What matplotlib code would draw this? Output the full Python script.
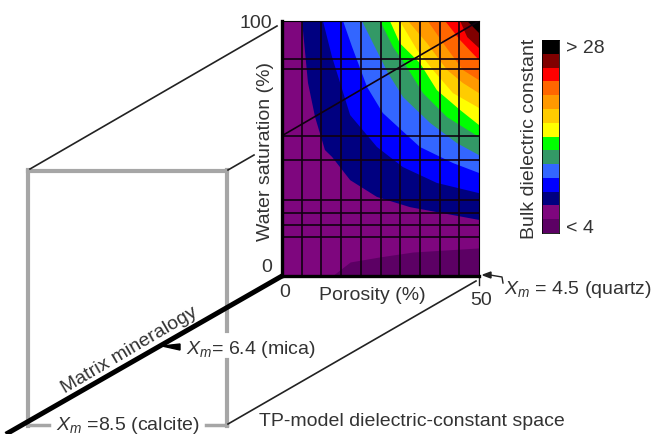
import matplotlib
matplotlib.use("Agg")
import matplotlib.pyplot as plt
from matplotlib.transforms import ScaledTranslation

plt.rcParams['font.family'] = ['Liberation Sans', 'DejaVu Sans']
plt.rcParams['mathtext.fontset'] = 'custom'
plt.rcParams['mathtext.rm'] = 'Liberation Sans'
plt.rcParams['mathtext.it'] = 'Liberation Sans:italic'

#colours, low to high
cores = ['#5c0064', '#7e067e', '#000080', '#0000ff', '#3366ff', '#339966', '#00ff00',
         '#ffff00', '#ffcc00', '#ff9900', '#ff6600', '#ff0000', '#800000', '#000000']

#contour edges: porosity (%), saturation (%)
limite_1_por = [12.7, 17.3, 24.9, 33.2, 50]
limite_1_sat = [0, 5.5, 7.5, 9.4, 11]
limites = [
    ([5.1, 6.6, 8.4, 10.9, 12.7, 17.3, 24.1, 32.5, 50], [100, 75.7, 62.3, 49.4, 46.7, 37.6, 31, 27, 22]),
    ([10.4, 12.7, 17.3, 24.1, 30.7, 39.3, 50], [100, 85.9, 63.1, 50.6, 42.7, 36.5, 32.5]),
    ([15.5, 17.8, 21.6, 25.6, 35, 43.4, 50], [100, 89.8, 74.1, 63.9, 50.6, 44.3, 40.4]),
    ([20.3, 23.1, 26.9, 30.7, 37.6, 44.4, 50], [100, 91.3, 79.6, 70.2, 60, 52.1, 47.4]),
    ([24.9, 28.2, 31.7, 35.8, 41.9, 50], [100, 89.8, 81.9, 71.7, 62.3, 54.5]),
    ([27.4, 29.9, 35, 39.3, 45.2, 50], [100, 91.3, 83.5, 72.9, 65.1, 59.2]),
    ([29.9, 34.3, 38.3, 43.4, 50], [100, 88.6, 80.8, 71.7, 65.9]),
    ([32, 36.8, 41.9, 45.9, 50], [100, 91.3, 80.8, 75.7, 71.7]),
    ([37, 40.9, 45.9, 50], [100, 91.3, 80.8, 76.8]),
    ([41.4, 45.2, 50], [100, 92.5, 84.7]),
    ([45.2, 47, 50], [100, 93.7, 89.4]),
    ([47, 50], [100, 95.3]),
]
grade_por = [5, 10, 15, 20, 25, 30, 35, 40, 45]
grade_sat = [15.3, 20, 24.7, 30, 45.5, 55, 81, 85]
diagonal_por = [0, 50]
diagonal_sat = [55, 100]

L, A = 652, 434
fig = plt.figure(figsize=(L/100, A/100), dpi=100)

#wire frame, in pixels of the picture
fundo = fig.add_axes([0, 0, 1, 1])
fundo.set_xlim(0, L)
fundo.set_ylim(A, 0)
fundo.axis('off')
cinza = '#a6a6a6'
fundo.plot([28, 227], [171, 171], color=cinza, lw=3)
fundo.plot([28, 28], [170, 426], color=cinza, lw=3)
fundo.plot([227, 227], [170, 331], color=cinza, lw=3)
fundo.plot([227, 227], [360, 426], color=cinza, lw=3)
fundo.plot([28, 49], [425, 425], color=cinza, lw=2.5)
fundo.plot([206, 227], [425, 425], color=cinza, lw=2.5)
fundo.plot([30, 277], [169, 26], color='#222222', lw=1.2)
fundo.plot([228, 254], [170, 155], color='#222222', lw=1.2)
fundo.plot([228, 476], [424, 281], color='#222222', lw=1.2)
fundo.plot([8, 282], [433, 276], color='black', lw=3.6)
fundo.fill([162, 180, 180], [346, 344, 350], color='black')
fundo.plot([490, 502, 503], [275, 277, 283], color='#222222', lw=1)
fundo.fill([483, 491, 491], [275, 272, 278], color='#222222')
fundo.plot([479, 479], [276, 285], color='#222222', lw=1)

texto = '#333333'
fs = 14
fundo.text(129, 350, 'Matrix mineralogy', rotation=30.5, rotation_mode='anchor', ha='center',
           va='center', fontsize=fs, color=texto)
fundo.text(186, 349, r'$X_m$' + '= 6.4 (mica)', va='center', fontsize=fs, color=texto)
fundo.text(56, 425, r'$X_m$' + ' =8.5 (calcite)', va='center', fontsize=fs, color=texto)
fundo.text(504, 289, r'$X_m$' + ' = 4.5 (quartz)', va='center', fontsize=fs, color=texto)
fundo.text(259, 422, 'TP-model dielectric-constant space', va='center', fontsize=fs, color=texto)

#main panel
ax = fig.add_axes([282/L, 1-276/A, 197/L, 255/A])
ax.set_facecolor(cores[1])
ax.fill_between(limite_1_por, 0, limite_1_sat, color=cores[0], lw=0)
for (por, sat), cor in zip(limites, cores[2:]):
    ax.fill(por + [50], sat + [100], color=cor, lw=0)
for p in grade_por:
    ax.axvline(p, color='#100010', lw=1.2)
for s in grade_sat:
    ax.axhline(s, color='#100010', lw=1.2)
ax.plot(diagonal_por, diagonal_sat, color='#100010', lw=1.2)
ax.set_xlim(0, 50)
ax.set_ylim(0, 100)
ax.set_xticks([0, 50])
ax.set_yticks([0, 100])
ax.tick_params(length=0, labelsize=fs, labelcolor=texto, pad=7)
ax.tick_params(axis='x', pad=6)
ax.get_yticklabels()[0].set_va('bottom')
rotulos_x = ax.get_xticklabels()
rotulos_x[0].set_transform(rotulos_x[0].get_transform() + ScaledTranslation(3/100, 0, fig.dpi_scale_trans))
rotulos_x[1].set_transform(rotulos_x[1].get_transform() + ScaledTranslation(2/100, -8/100, fig.dpi_scale_trans))
ax.set_xlabel('Porosity (%)', fontsize=fs, color=texto, va='center')
ax.xaxis.set_label_coords(90/197, -20/255)
ax.set_ylabel('Water saturation (%)', fontsize=fs, color=texto, va='center')
ax.yaxis.set_label_coords(-16/197, 0.49)
for lado in ['top', 'right']:
    ax.spines[lado].set_linewidth(0.8)
for lado in ['left', 'bottom']:
    ax.spines[lado].set_linewidth(2.4)

#colour scale
barra = fig.add_axes([542/L, 1-233/A, 17/L, 193/A])
barra.bar([0]*len(cores), [1]*len(cores), bottom=range(len(cores)), width=1, color=cores, lw=0)
barra.set_xlim(-0.5, 0.5)
barra.set_ylim(0, len(cores))
barra.set_xticks([])
barra.yaxis.tick_right()
barra.set_yticks([0.5, len(cores)-0.5])
barra.set_yticklabels(['< 4', '> 28'])
barra.tick_params(length=0, labelsize=fs, labelcolor=texto, pad=5)
barra.yaxis.set_label_position('left')
barra.set_ylabel('Bulk dielectric constant', fontsize=fs, color=texto, va='center')
barra.yaxis.set_label_coords(-13/17, 0.49)
for lado in barra.spines.values():
    lado.set_linewidth(0.6)

fig.savefig('out.png', dpi=100)
